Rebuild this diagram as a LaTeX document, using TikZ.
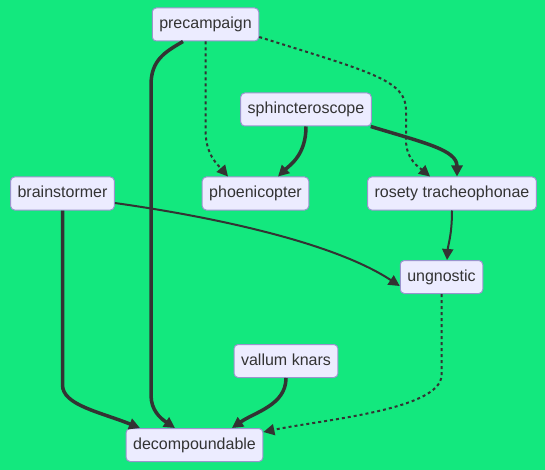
\documentclass[tikz,border=0pt]{standalone}
\usepackage{fontspec}
\setmainfont{Liberation Sans}
\usetikzlibrary{arrows.meta}

\definecolor{bggreen}{HTML}{13E87E}
\definecolor{boxfill}{HTML}{ECECFF}
\definecolor{boxline}{HTML}{9A94CE}
\definecolor{ink}{HTML}{333333}

\begin{document}
\begin{tikzpicture}[x=1pt,y=-1pt,
  box/.style={draw=boxline,fill=boxfill,rounded corners=4pt,line width=1pt,
    minimum height=33pt,inner xsep=7pt,text height=12pt,text depth=3.5pt,
    text=ink,font=\fontsize{16}{19}\selectfont},
  link/.style={draw=ink,line width=2pt,-{Triangle[length=11pt,width=11pt]}},
  thicklink/.style={link,line width=3.5pt},
  dotlink/.style={link,dash pattern=on 3pt off 3pt}]
\fill[bggreen] (0,0) rectangle (545,470);
\useasboundingbox (0,0) rectangle (545,470);

\node[box] (PC) at (205.5,24.5) {precampaign};
\node[box] (SP) at (306,109.5) {sphincteroscope};
\node[box] (BR) at (62.5,193.5) {brainstormer};
\node[box] (PH) at (255.5,193.5) {phoenicopter};
\node[box] (RT) at (452,193.5) {rosety tracheophonae};
\node[box] (UN) at (441.5,277) {ungnostic};
\node[box] (VK) at (286,361) {vallum knars};
\node[box] (DC) at (194.5,445) {decompoundable};

\coordinate (C1) at (151,85);
\coordinate (C2) at (151,395);
\coordinate (C3) at (62.5,385);
\coordinate (C4) at (441.5,375);
\coordinate (C5) at (205.5,130);
\coordinate (C6) at (406,110);
\coordinate (C7) at (406,140);

\draw[thicklink] ([xshift=-22.5pt]PC.south) .. controls (165,52) and (151,60) .. (C1)
  -- (C2) .. controls (151,410) and (160,418) .. ([xshift=-19.5pt]DC.north);
\draw[dotlink] (PC.south) -- (C5) .. controls (205.5,155) and (218,165) .. ([xshift=-27.5pt]PH.north);
\draw[dotlink] ([yshift=-12.5pt]PC.east) .. controls (370,72) and (406,80) .. (C6)
  -- (C7) .. controls (406,160) and (420,168) .. ([xshift=-22pt]RT.north);
\draw[thicklink] (SP.south) .. controls (306,155) and (290,165) .. ([xshift=22.5pt]PH.north);
\draw[thicklink] ([xshift=-1pt]SP.south east) .. controls (425,143) and (457,150) .. ([xshift=5pt]RT.north);
\draw[link] ([yshift=-9.5pt]BR.east) .. controls (200,215) and (330,240) .. ([yshift=-9pt]UN.west);
\draw[thicklink] (BR.south) -- (C3) .. controls (62.5,405) and (100,412) .. ([xshift=-54.5pt]DC.north);
\draw[link] (RT.south) .. controls (452,235) and (448,245) .. ([xshift=5.5pt]UN.north);
\draw[dotlink] (UN.south) -- (C4) .. controls (441.5,410) and (320,420) .. ([yshift=13pt]DC.east);
\draw[thicklink] (VK.south) .. controls (286,405) and (255,412) .. ([xshift=37.5pt]DC.north);

\end{tikzpicture}
\end{document}
